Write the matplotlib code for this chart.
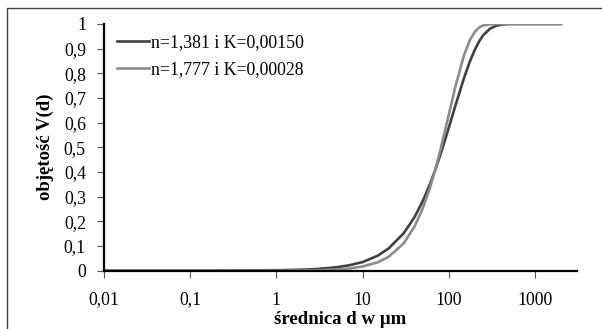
import matplotlib
matplotlib.use("Agg")
from matplotlib import pyplot as plt
from matplotlib.patches import Rectangle

# diameters d [um] and cumulative volume V(d)
d_um = [0.01, 0.1, 1, 2, 3, 5, 7, 10, 15, 20, 30, 40, 50, 60, 70, 80, 90,
        100, 120, 150, 175, 200, 225, 250, 300, 350, 400, 500, 1000, 2000]
v_n1381 = [0.0, 0.0, 0.002, 0.004, 0.007, 0.014, 0.022, 0.035, 0.061, 0.090,
           0.152, 0.217, 0.283, 0.348, 0.411, 0.471, 0.528, 0.580, 0.672,
           0.781, 0.847, 0.895, 0.930, 0.954, 0.981, 0.992, 0.997, 1.0, 1.0, 1.0]
v_n1777 = [0.0, 0.0, 0.0, 0.001, 0.002, 0.005, 0.009, 0.017, 0.034, 0.056,
           0.111, 0.179, 0.254, 0.332, 0.412, 0.490, 0.565, 0.633, 0.750,
           0.873, 0.934, 0.968, 0.986, 0.994, 0.999, 1.0, 1.0, 1.0, 1.0, 1.0]

series_labels = ["n=1,381 i K=0,00150", "n=1,777 i K=0,00028"]
x_ticks = [0.01, 0.1, 1, 10, 100, 1000]
x_tick_labels = ["0,01", "0,1", "1", "10", "100", "1000"]
y_ticks = [0, 0.1, 0.2, 0.3, 0.4, 0.5, 0.6, 0.7, 0.8, 0.9, 1]
y_tick_labels = ["0", "0,1", "0,2", "0,3", "0,4", "0,5", "0,6", "0,7", "0,8", "0,9", "1"]

W, H = 602, 329
plt.rcParams["font.family"] = ["Liberation Serif", "DejaVu Serif"]

fig = plt.figure(figsize=(W / 100, H / 100), dpi=100)
ax = fig.add_axes([104 / W, 1 - 270.7 / H, (577 - 104) / W, (270.7 - 24) / H])

ax.plot(d_um, v_n1381, color="#404040", lw=1.9, label=series_labels[0])
ax.plot(d_um, v_n1777, color="#8c8c8c", lw=1.9, label=series_labels[1])

ax.set_xscale("log")
ax.set_xlim(0.01, 3070)
ax.set_ylim(0, 1)
ax.set_xticks(x_ticks)
ax.set_xticklabels(x_tick_labels)
ax.minorticks_off()
ax.set_yticks(y_ticks)
ax.set_yticklabels(y_tick_labels)
ax.tick_params(labelsize=12.8, length=5, width=0.8, color="#555555")
ax.tick_params(axis="y", pad=8)
ax.tick_params(axis="x", pad=10)

for side in ["top", "right"]:
    ax.spines[side].set_visible(False)
for side in ["left", "bottom"]:
    ax.spines[side].set_linewidth(1.6)

ax.legend(loc="upper left", bbox_to_anchor=(108 / W, 1 - 25 / H),
          bbox_transform=fig.transFigure, frameon=False, fontsize=12.8,
          borderpad=0, handlelength=1.8, handletextpad=0.1, labelspacing=0.6)

fig.text(340 / W, 1 - 320 / H, "średnica d w µm", ha="center", va="center",
         fontsize=13.5, fontweight="bold")
fig.text(45 / W, 1 - 147 / H, "objętość V(d)", ha="center", va="center",
         rotation=90, fontsize=13.5, fontweight="bold")

fig.patches.append(Rectangle((7 / W, -0.1), 1.2, 1 - 8 / H + 0.1,
                             transform=fig.transFigure, fill=False,
                             edgecolor="#404040", lw=1))

fig.savefig("out.png", dpi=100)
